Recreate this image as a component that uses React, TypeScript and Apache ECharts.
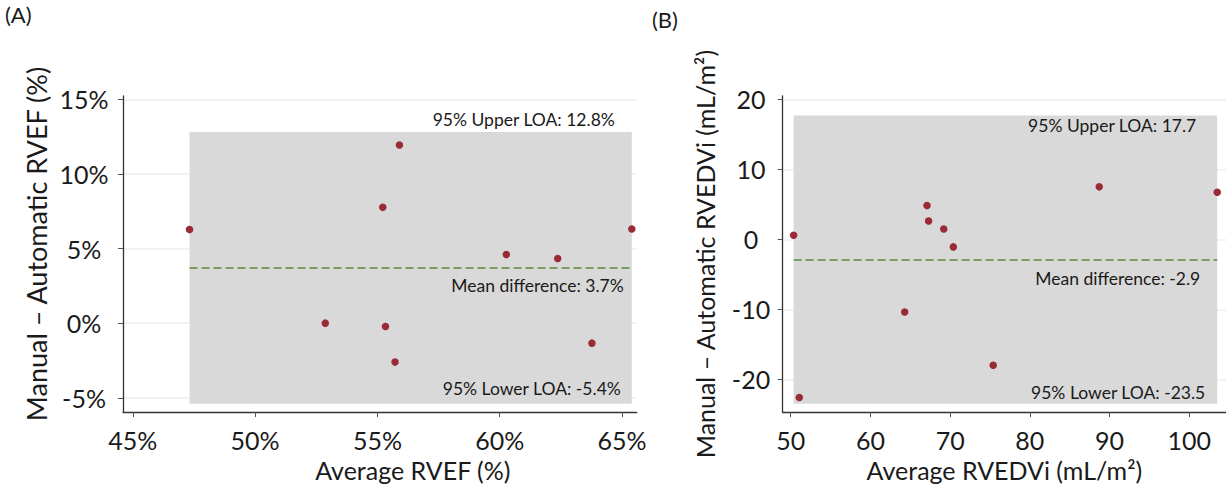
import React, { useEffect, useRef } from "react";
import * as echarts from "echarts";

// Panel A: RVEF (%)
const rvefAverage = [47.32, 55.9, 55.22, 65.4, 60.27, 62.37, 52.87, 55.33, 55.72, 63.77];
const rvefDifference = [6.27, 11.94, 7.76, 6.31, 4.6, 4.33, 0.0, -0.22, -2.61, -1.34];
const rvefMean = 3.7;
const rvefUpper = 12.8;
const rvefLower = -5.4;
const rvefXTicks = [45, 50, 55, 60, 65];
const rvefYTicks = [-5, 0, 5, 10, 15];

// Panel B: RVEDVi (mL/m2)
const rvedviAverage = [50.37, 51.08, 64.3, 67.1, 67.3, 69.2, 70.4, 75.4, 88.7, 103.5];
const rvedviDifference = [0.57, -22.6, -10.4, 4.83, 2.6, 1.47, -1.09, -18.0, 7.49, 6.72];
const rvedviMean = -2.9;
const rvedviUpper = 17.7;
const rvedviLower = -23.5;
const rvedviXTicks = [50, 60, 70, 80, 90, 100];
const rvedviYTicks = [-20, -10, 0, 10, 20];

const FONT = "Lato";
const TEXT = "#1a1a1a";
const POINT = "#9a2b36";
const BAND = "#d9d9d9";
const MEANLINE = "#5f8a3a";

function makeAxisX(gridIndex: number, min: number, max: number, ticks: number[], name: string, fmt: (v: number) => string, namePad: number[]) {
  return {
    type: "value",
    gridIndex,
    min,
    max,
    name,
    nameLocation: "middle",
    nameGap: 44,
    nameTextStyle: { fontFamily: FONT, fontSize: 25, color: TEXT, padding: namePad },
    axisLine: { show: true, onZero: false, lineStyle: { color: "#333", width: 1.3 } },
    axisTick: { show: true, length: 5, customValues: ticks, lineStyle: { color: "#555" } },
    axisLabel: { customValues: ticks, margin: 15, fontFamily: FONT, fontSize: 25, color: TEXT, formatter: fmt },
    splitLine: { show: false },
  };
}

function makeAxisY(gridIndex: number, min: number, max: number, ticks: number[], name: string, fmt: (v: number) => string, labelMargin: number, nameGap: number, nameSize: number, namePad: number[]) {
  return {
    type: "value",
    gridIndex,
    min,
    max,
    name,
    nameLocation: "middle",
    nameGap,
    nameTextStyle: { fontFamily: FONT, fontSize: nameSize, color: TEXT, padding: namePad },
    axisLine: { show: true, onZero: false, lineStyle: { color: "#333", width: 1.3 } },
    axisTick: { show: true, length: 5, customValues: ticks, lineStyle: { color: "#555" } },
    axisLabel: { customValues: ticks, margin: labelMargin, align: "center", fontFamily: FONT, fontSize: 25, color: TEXT, formatter: fmt },
    splitLine: { show: true, lineStyle: { color: "#e8eff1", width: 1.5 } },
  };
}

function makeSeries(
  idx: number,
  xs: number[],
  ys: number[],
  mean: number,
  upper: number,
  lower: number,
  labels: { upper: string; mean: string; lower: string },
  pos: { upper: string; lower: string },
  dist: { upper: number[]; mean: number[]; lower: number[] }
) {
  const xMin = Math.min(...xs);
  const xMax = Math.max(...xs);
  const labelStyle = { fontFamily: FONT, fontSize: 17.5, color: TEXT };
  return {
    type: "scatter",
    xAxisIndex: idx,
    yAxisIndex: idx,
    symbol: "circle",
    symbolSize: 7.5,
    itemStyle: { color: POINT, opacity: 1 },
    data: xs.map((x, i) => [x, ys[i]]),
    z: 5,
    markArea: {
      silent: true,
      itemStyle: { color: BAND, opacity: 1 },
      data: [[{ coord: [xMin, lower] }, { coord: [xMax, upper] }]],
    },
    markLine: {
      silent: true,
      symbol: ["none", "none"],
      data: [
        [
          { coord: [xMin, upper], lineStyle: { color: "rgba(0,0,0,0)", width: 1 }, label: { show: true, position: pos.upper, formatter: labels.upper, distance: dist.upper, ...labelStyle } },
          { coord: [xMax, upper] },
        ],
        [
          { coord: [xMin, mean], lineStyle: { color: MEANLINE, type: [8, 4], width: 1.5 }, label: { show: true, position: "insideEndBottom", formatter: labels.mean, distance: dist.mean, ...labelStyle } },
          { coord: [xMax, mean] },
        ],
        [
          { coord: [xMin, lower], lineStyle: { color: "rgba(0,0,0,0)", width: 1 }, label: { show: true, position: pos.lower, formatter: labels.lower, distance: dist.lower, ...labelStyle } },
          { coord: [xMax, lower] },
        ],
      ],
    },
  };
}

export default function App() {
  const ref = useRef<HTMLDivElement>(null);
  useEffect(() => {
    if (!ref.current) return;
    const chart = echarts.init(ref.current, undefined, { renderer: "svg" });
    const pct = (v: number) => `${v}%`;
    const num = (v: number) => `${v}`;
    chart.setOption({
      animation: false,
      backgroundColor: "#ffffff",
      textStyle: { fontFamily: FONT },
      grid: [
        { left: 123, top: 96, width: 513.7, height: 321.3, containLabel: false },
        { left: 782.7, top: 96, width: 443.3, height: 318, containLabel: false },
      ],
      xAxis: [
        makeAxisX(0, 44.6, 65.6, rvefXTicks, "Average RVEF (%)", pct, [0, 0, 0, 66]),
        makeAxisX(1, 49, 104.6, rvedviXTicks, "Average RVEDVi (mL/m²)", num, [0, 0, 0, 0]),
      ],
      yAxis: [
        makeAxisY(0, -5.96, 15.22, rvefYTicks, "Manual – Automatic RVEF (%)", pct, 39, 73, 27, [0, 0, 0, 20]),
        makeAxisY(1, -24.69, 20.47, rvedviYTicks, "Manual – Automatic RVEDVi (mL/m²)", num, 31.7, 65, 25, [0, 0, 0, 0]),
      ],
      series: [
        makeSeries(
          0,
          rvefAverage,
          rvefDifference,
          rvefMean,
          rvefUpper,
          rvefLower,
          {
            upper: `95% Upper LOA: ${rvefUpper}%`,
            mean: `Mean difference: ${rvefMean}%`,
            lower: `95% Lower LOA: ${rvefLower}%`,
          },
          { upper: "insideEndTop", lower: "insideEndTop" },
          { upper: [17, 4], mean: [8, 9], lower: [11, 6] }
        ),
        makeSeries(
          1,
          rvedviAverage,
          rvedviDifference,
          rvedviMean,
          rvedviUpper,
          rvedviLower,
          {
            upper: `95% Upper LOA: ${rvedviUpper}`,
            mean: `Mean difference: ${rvedviMean}`,
            lower: `95% Lower LOA: ${rvedviLower}`,
          },
          { upper: "insideEndBottom", lower: "insideEndTop" },
          { upper: [21, 1], mean: [17, 10], lower: [12, 2] }
        ),
      ],
      graphic: [
        { type: "text", left: 5, top: 3, style: { text: "(A)", fontFamily: FONT, fontSize: 22, fill: TEXT } },
        { type: "text", left: 652, top: 8, style: { text: "(B)", fontFamily: FONT, fontSize: 22, fill: TEXT } },
      ],
    });
    return () => chart.dispose();
  }, []);
  return <div ref={ref} style={{ position: "fixed", left: 0, top: 0, width: 1226, height: 487 }} />;
}
